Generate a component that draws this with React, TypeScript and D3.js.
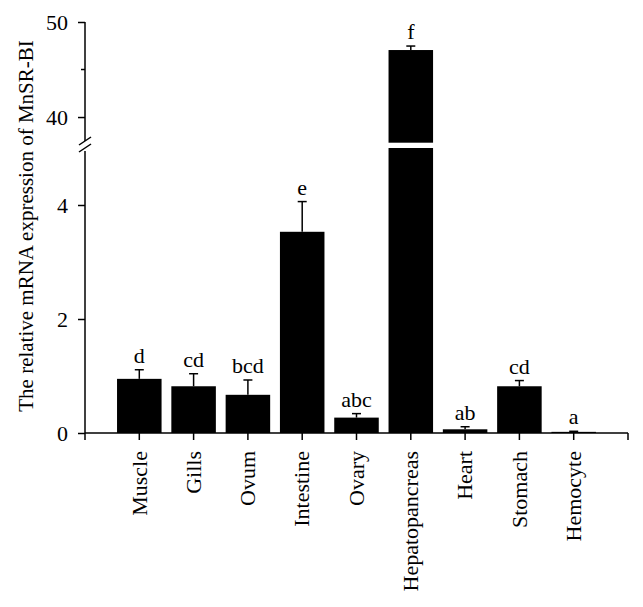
import React from 'react'
import * as d3 from 'd3'

const categories = ['Muscle', 'Gills', 'Ovum', 'Intestine', 'Ovary', 'Hepatopancreas', 'Heart', 'Stomach', 'Hemocyte']
const means = [0.95, 0.82, 0.67, 3.53, 0.27, 47.05, 0.065, 0.82, 0.02]
const errors = [0.16, 0.22, 0.26, 0.53, 0.07, 0.42, 0.045, 0.1, 0.01]
const letters = ['d', 'cd', 'bcd', 'e', 'abc', 'f', 'ab', 'cd', 'a']
const lowTicks = [0, 2, 4]
const highTicks = [40, 50]
const highMinor = [45]

const W = 643
const H = 607
const FONT = '"Liberation Serif", "Times New Roman", serif'
const AXIS_X = 85
const BREAK_LOW = 5       // top of the lower segment
const BREAK_HIGH = 37.3   // bottom of the upper segment

export default function App() {
  const svgRef = React.useRef<SVGSVGElement>(null)

  React.useEffect(() => {
    const svg = d3.select(svgRef.current!)
    svg.selectAll('*').remove()

    const x = d3.scalePoint<string>().domain(categories).range([AXIS_X, 628]).padding(1)
    const yLow = d3.scaleLinear().domain([0, BREAK_LOW]).range([433, 148])
    const yHigh = d3.scaleLinear().domain([BREAK_HIGH, 50]).range([142.7, 22])
    const barW = x.step() * 0.82
    const yOf = (v: number) => (v > BREAK_LOW ? yHigh(v) : yLow(v))

    const g = svg.append('g').attr('font-family', FONT)

    // bars (split in two pieces when they cross the break)
    categories.forEach((c, i) => {
      const v = means[i]
      const cx = x(c)!
      if (v > BREAK_LOW) {
        g.append('rect').attr('x', cx - barW / 2).attr('width', barW)
          .attr('y', yLow(BREAK_LOW)).attr('height', yLow(0) - yLow(BREAK_LOW)).attr('fill', '#000')
        g.append('rect').attr('x', cx - barW / 2).attr('width', barW)
          .attr('y', yHigh(v)).attr('height', yHigh(BREAK_HIGH) - yHigh(v)).attr('fill', '#000')
      } else {
        g.append('rect').attr('x', cx - barW / 2).attr('width', barW)
          .attr('y', yLow(v)).attr('height', yLow(0) - yLow(v)).attr('fill', '#000')
      }
      // error bar
      const top = yOf(v + errors[i])
      g.append('line').attr('x1', cx).attr('x2', cx).attr('y1', yOf(v)).attr('y2', top)
        .attr('stroke', '#000').attr('stroke-width', 1.5)
      g.append('line').attr('x1', cx - 4.5).attr('x2', cx + 4.5).attr('y1', top).attr('y2', top)
        .attr('stroke', '#000').attr('stroke-width', 1.5)
      // significance letter
      g.append('text').attr('x', cx).attr('y', top - 7).attr('text-anchor', 'middle')
        .attr('font-size', 22).attr('fill', '#000').text(letters[i])
    })

    const fmt = d3.format('d')

    // y axis, lower part
    const axLow = g.append('g').attr('transform', `translate(${AXIS_X},0)`)
      .call(d3.axisLeft(yLow).tickValues(lowTicks).tickFormat(fmt as any).tickSize(7).tickPadding(10).tickSizeOuter(0))
    axLow.select('.domain').remove()
    axLow.append('line').attr('x1', 0).attr('x2', 0).attr('y1', yLow(0)).attr('y2', 151)

    // y axis, upper part
    const axHigh = g.append('g').attr('transform', `translate(${AXIS_X},0)`)
      .call(d3.axisLeft(yHigh).tickValues(highTicks).tickFormat(fmt as any).tickSize(7).tickPadding(10).tickSizeOuter(0))
    axHigh.select('.domain').remove()
    axHigh.append('line').attr('x1', 0).attr('x2', 0).attr('y1', yHigh(50)).attr('y2', 141)
    highMinor.forEach(t => {
      axHigh.append('line').attr('x1', -4).attr('x2', 0).attr('y1', yHigh(t)).attr('y2', yHigh(t))
    })

    ;[axLow, axHigh].forEach(a => {
      a.selectAll('line').attr('stroke', '#000').attr('stroke-width', 1.5)
      a.selectAll('text').attr('font-family', FONT).attr('font-size', 22).attr('fill', '#000')
    })

    // break marks on the y axis
    ;[0, 7].forEach(d => {
      g.append('line').attr('x1', AXIS_X - 6).attr('x2', AXIS_X + 6)
        .attr('y1', 145 + d).attr('y2', 137 + d)
        .attr('stroke', '#000').attr('stroke-width', 1.5)
    })

    // x axis
    const y0 = yLow(0)
    g.append('line').attr('x1', AXIS_X).attr('x2', 628).attr('y1', y0).attr('y2', y0)
      .attr('stroke', '#000').attr('stroke-width', 1.5)
    const tickXs = [AXIS_X, ...categories.map(c => x(c)!), 628]
    tickXs.forEach(tx => {
      g.append('line').attr('x1', tx).attr('x2', tx).attr('y1', y0).attr('y2', y0 + 7)
        .attr('stroke', '#000').attr('stroke-width', 1.5)
    })
    categories.forEach(c => {
      g.append('text')
        .attr('transform', `translate(${x(c)},${y0 + 18}) rotate(-90)`)
        .attr('text-anchor', 'end').attr('dy', '0.33em')
        .attr('font-size', 22).attr('fill', '#000').text(c)
    })

    // y axis title
    g.append('text')
      .attr('transform', `translate(33,226) rotate(-90)`)
      .attr('text-anchor', 'middle')
      .attr('font-size', 21).attr('fill', '#000')
      .text('The relative mRNA expression of MnSR-BI')
  }, [])

  return (
    <svg ref={svgRef} width={W} height={H}
      style={{ position: 'absolute', left: 0, top: 0, background: '#fff' }} />
  )
}
